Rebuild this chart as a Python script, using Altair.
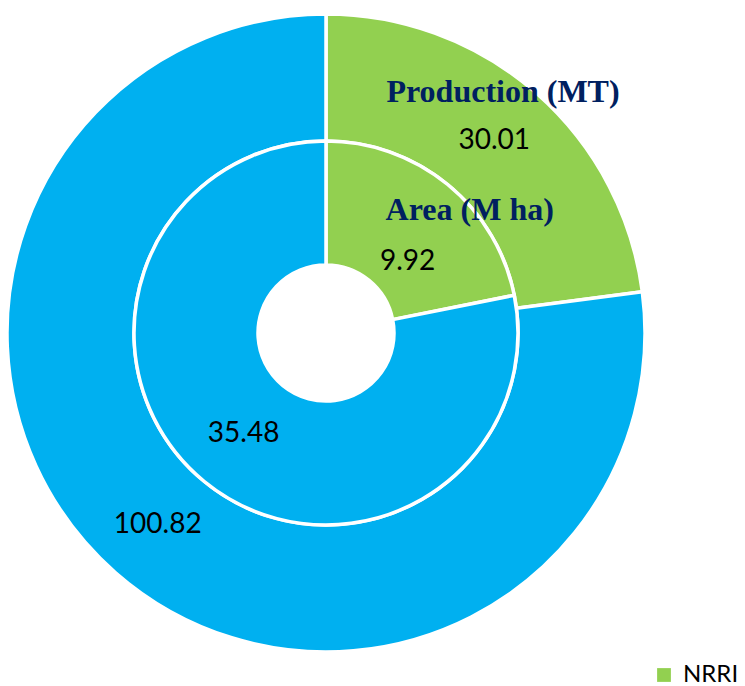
import altair as alt
import pandas as pd
import math

categories = ["NRRI", "Others"]
production = [30.01, 100.82]
area = [9.92, 35.48]
series_names = ["Production (MT)", "Area (M ha)"]

colors = ["#92D050", "#00B0F0"]


def ring_df(values):
    total = sum(values)
    return pd.DataFrame({
        "category": categories,
        "value": values,
        "frac": [v / total for v in values],
        "order": list(range(len(values))),
    })


prod_df = ring_df(production)
area_df = ring_df(area)

color = alt.Color(
    "category:N",
    scale=alt.Scale(domain=categories, range=colors),
    legend=alt.Legend(
        values=["NRRI"], title=None, orient="none", legendX=644, legendY=648,
        symbolType="square", symbolSize=190, symbolStrokeWidth=0,
        labelFont="Lato", labelFontSize=24, labelColor="#000000",
        labelOffset=7, padding=0, labelLimit=200,
    ),
)
theta_scale = alt.Scale(domain=[0, 1])
theta = alt.Theta("frac:Q", stack=True, scale=theta_scale)
order = alt.Order("order:Q")

outer = alt.Chart(prod_df).mark_arc(
    radius=319, radius2=192, stroke="white", strokeWidth=3.5
).encode(theta=theta, color=color, order=order)

inner = alt.Chart(area_df).mark_arc(
    radius=192, radius2=68, stroke="white", strokeWidth=3.5
).encode(theta=theta, color=color, order=order)

label_font = dict(font="Lato", fontSize=28, color="#000000", baseline="middle", align="center")


def mid_labels(df, radius, cats, theta_offset=0.0):
    return alt.Chart(df).transform_stack(
        stack="frac", groupby=[], as_=["start", "end"],
        sort=[alt.SortField("order", order="ascending")],
    ).transform_calculate(
        mid=f"(datum.start + datum.end) / 2 + {theta_offset}"
    ).transform_filter(
        alt.FieldOneOfPredicate(field="category", oneOf=cats)
    ).mark_text(radius=radius, **label_font).encode(
        theta=alt.Theta("mid:Q", stack=None, scale=theta_scale),
        text=alt.Text("value:Q", format=".2f"),
    )


outer_lbl = mid_labels(prod_df, 255, categories)
inner_lbl_other = mid_labels(area_df, 130, ["Others"])
# NRRI area label sits a little past its slice midpoint in the reference
inner_lbl_nrri = mid_labels(area_df, 108, ["NRRI"], theta_offset=0.027)

name_font = dict(font="Liberation Serif", fontWeight="bold", fontSize=32,
                 color="#002060", baseline="middle", align="center")
prod_name = alt.Chart(pd.DataFrame({"name": [series_names[0]]})).mark_text(**name_font).encode(
    theta=alt.value(math.radians(36.3)), radius=alt.value(299), text="name:N"
)
area_name = alt.Chart(pd.DataFrame({"name": [series_names[1]]})).mark_text(**name_font).encode(
    theta=alt.value(math.radians(49.5)), radius=alt.value(189), text="name:N"
)

chart = alt.layer(
    outer, inner, outer_lbl, inner_lbl_other, inner_lbl_nrri, prod_name, area_name
).properties(
    width=636, height=636,
    padding={"left": 8, "top": 15, "right": 101, "bottom": 35},
    autosize=alt.AutoSizeParams(type="none"),
).configure_view(stroke=None).configure(background="white")

chart.save("out.html", embed_options={"renderer": "svg", "actions": False})
